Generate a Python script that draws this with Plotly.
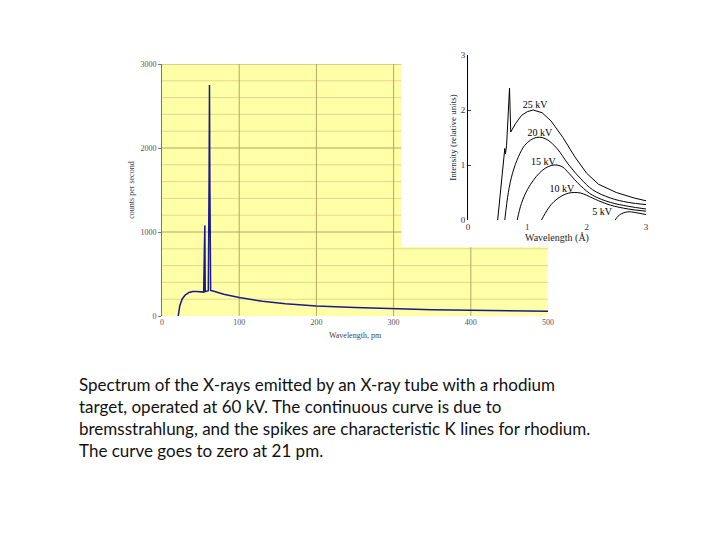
import plotly.graph_objects as go

# main spectrum (pm, counts/s)
wl = [21, 23, 26, 30, 35, 40, 45, 50, 54, 55, 55.5, 56, 57, 60, 61, 61.5, 62, 62.5, 63, 65, 70, 80, 100, 130, 160, 200, 250, 300, 350, 400, 450, 500]
cps = [0, 120, 200, 250, 280, 292, 292, 288, 285, 850, 1080, 290, 295, 300, 1650, 2750, 1600, 320, 305, 300, 285, 260, 220, 175, 145, 120, 100, 85, 75, 68, 62, 58]

# inset curves (Angstrom, relative intensity)
k25_x = [0.50, 0.55, 0.60, 0.62, 0.63, 0.65, 0.70, 0.71, 0.72, 0.80, 0.90, 1.0, 1.1, 1.25, 1.4, 1.6, 1.8, 2.0, 2.2, 2.5, 2.8, 3.0]
k25_y = [0.0, 0.6, 1.15, 1.3, 1.2, 1.35, 2.4, 1.8, 1.6, 1.75, 1.9, 1.97, 2.0, 1.95, 1.8, 1.5, 1.15, 0.85, 0.65, 0.5, 0.4, 0.35]
k20_x = [0.62, 0.68, 0.75, 0.85, 0.95, 1.05, 1.15, 1.25, 1.35, 1.5, 1.7, 1.9, 2.1, 2.4, 2.7, 3.0]
k20_y = [0.0, 0.5, 0.85, 1.15, 1.35, 1.45, 1.5, 1.5, 1.45, 1.3, 1.0, 0.75, 0.55, 0.4, 0.32, 0.28]
k15_x = [0.83, 0.9, 1.0, 1.1, 1.2, 1.3, 1.4, 1.5, 1.6, 1.7, 1.9, 2.1, 2.4, 2.7, 3.0]
k15_y = [0.0, 0.3, 0.55, 0.72, 0.85, 0.94, 0.99, 1.0, 0.96, 0.85, 0.62, 0.45, 0.32, 0.25, 0.2]
k10_x = [1.24, 1.3, 1.4, 1.5, 1.6, 1.7, 1.8, 1.9, 2.0, 2.2, 2.4, 2.7, 3.0]
k10_y = [0.0, 0.12, 0.28, 0.38, 0.45, 0.49, 0.5, 0.49, 0.45, 0.35, 0.27, 0.2, 0.16]
k5_x = [2.48, 2.53, 2.58, 2.65, 2.72, 2.8, 2.9, 3.0]
k5_y = [0.0, 0.07, 0.11, 0.14, 0.15, 0.14, 0.12, 0.1]
curve_labels = ["25 kV", "20 kV", "15 kV", "10 kV", "5 kV"]
label_x = [1.13, 1.21, 1.27, 1.58, 2.26]
label_y = [2.09, 1.58, 1.05, 0.55, 0.13]

main_xticks = [0, 100, 200, 300, 400, 500]
main_yticks = [0, 1000, 2000, 3000]

W, H, OFF = 720, 540, 8
def px_x(p):
    return (p - OFF) / W
def px_y(p):
    return 1 - (p - OFF) / H

fig = go.Figure()
fig.add_trace(go.Scatter(x=wl, y=cps, mode="lines", line=dict(color="#1a1a8c", width=1.5),
                         xaxis="x", yaxis="y", showlegend=False))
for i, (xs, ys) in enumerate([(k25_x, k25_y), (k20_x, k20_y), (k15_x, k15_y), (k10_x, k10_y), (k5_x, k5_y)]):
    fig.add_trace(go.Scatter(x=xs, y=ys, mode="lines",
                             line=dict(color="black", width=1, shape="linear" if i == 0 else "spline"),
                             xaxis="x2", yaxis="y2", showlegend=False))
fig.add_trace(go.Scatter(x=label_x, y=label_y, mode="text", text=curve_labels,
                         textfont=dict(family="Liberation Serif", size=10, color="black"),
                         xaxis="x2", yaxis="y2", showlegend=False))

cut_x, cut_y = 310, 820
shapes = [dict(type="path", xref="x", yref="y", layer="below",
               path=f"M0,0 L500,0 L500,{cut_y} L{cut_x},{cut_y} L{cut_x},3000 L0,3000 Z",
               fillcolor="#ffffa8", line=dict(width=0))]
for yv in range(200, 3001, 200):
    major = yv % 1000 == 0
    x1 = 500 if yv < cut_y else cut_x
    shapes.append(dict(type="line", xref="x", yref="y", layer="below", x0=0, x1=x1, y0=yv, y1=yv,
                       line=dict(color="#b0a860" if major else "#e0d890", width=1)))
for xv in range(100, 500, 100):
    y1 = 3000 if xv < cut_x else cut_y
    shapes.append(dict(type="line", xref="x", yref="y", layer="below", x0=xv, x1=xv, y0=0, y1=y1,
                       line=dict(color="#b0a860", width=1)))

tickfont = dict(family="Liberation Serif", size=8, color="#555")
fig.update_layout(
    width=W, height=H, margin=dict(l=0, r=0, t=0, b=0),
    paper_bgcolor="white", plot_bgcolor="rgba(0,0,0,0)",
    shapes=shapes,
    xaxis=dict(domain=[px_x(162), px_x(548)], range=[0, 500], tickvals=main_xticks, showgrid=False, zeroline=False,
               showline=False, ticks="", tickfont=tickfont, automargin=False,
               title=dict(text="Wavelength, pm", font=dict(family="Liberation Serif", size=8, color="#444"), standoff=6)),
    yaxis=dict(domain=[px_y(316), px_y(64)], range=[0, 3000], tickvals=main_yticks, showgrid=False, zeroline=False,
               showline=True, linecolor="#777", ticks="outside", ticklen=3, tickcolor="#777", tickfont=tickfont,
               automargin=False,
               title=dict(text="counts per second", font=dict(family="Liberation Serif", size=8, color="#444"), standoff=4)),
    xaxis2=dict(domain=[px_x(468), px_x(646)], range=[0, 3], anchor="y2", tickvals=[0, 1, 2, 3], showgrid=False,
                zeroline=False, showline=False, ticks="", automargin=False,
                tickfont=dict(family="Liberation Serif", size=9, color="#333"),
                title=dict(text="Wavelength (Å)", font=dict(family="Liberation Serif", size=10, color="#222"), standoff=0)),
    yaxis2=dict(domain=[px_y(220), px_y(55)], range=[0, 3], anchor="x2", tickvals=[0, 1, 2, 3], showgrid=False,
                zeroline=False, showline=True, linecolor="black", linewidth=1, ticks="inside", ticklen=3,
                automargin=False, tickfont=dict(family="Liberation Serif", size=9, color="#333"),
                title=dict(text="Intensity (relative units)", font=dict(family="Liberation Serif", size=9, color="#222"), standoff=2)),
)
caption = ("Spectrum of the X-rays emitted by an X-ray tube with a rhodium<br>"
           "target, operated at 60 kV. The continuous curve is due to<br>"
           "bremsstrahlung, and the spikes are characteristic K lines for rhodium.<br>"
           "The curve goes to zero at 21 pm.")
fig.add_annotation(text=caption, xref="paper", yref="paper", x=px_x(77), y=px_y(372), xanchor="left", yanchor="top",
                   showarrow=False, align="left", font=dict(family="Lato", size=17, color="#111"))
fig.write_html("out.html")
